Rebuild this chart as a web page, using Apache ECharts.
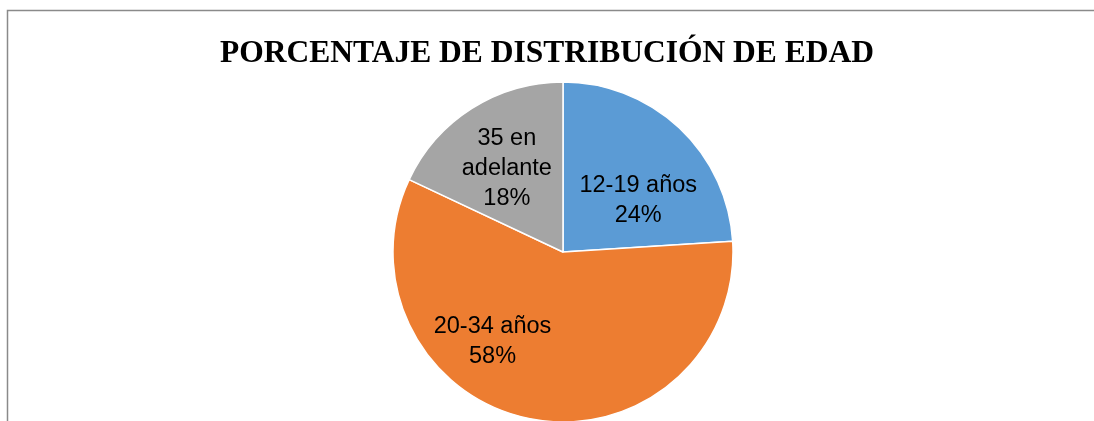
<!DOCTYPE html>
<html>
<head>
<meta charset="utf-8">
<script src="https://cdn.jsdelivr.net/npm/echarts@6/dist/echarts.min.js"></script>
<style>html,body{margin:0;padding:0;background:#fff;}#c{width:1094px;height:421px;}</style>
</head>
<body>
<div id="c"></div>
<script>
const titleText = 'PORCENTAJE DE DISTRIBUCIÓN DE EDAD';
const categories = ['12-19 años', '20-34 años', '35 en\nadelante'];
const values = [24, 58, 18];
const colors = ['#5B9BD5', '#ED7D31', '#A5A5A5'];
const labelOffsets = [[15, 13], [-54, 3], [-9, -9]];

const chart = echarts.init(document.getElementById('c'), null, {renderer: 'canvas'});
chart.setOption({
  animation: false,
  backgroundColor: '#fff',
  title: {
    text: titleText,
    left: 'center',
    top: 32,
    textStyle: {fontFamily: 'Liberation Serif', fontWeight: 'bold', fontSize: 31.5, color: '#000', lineHeight: 34}
  },
  graphic: [
    {type: 'polyline', silent: true, shape: {points: [[7.5, 421], [7.5, 10.5], [1094, 10.5]]},
     style: {stroke: '#8a8a8a', lineWidth: 1.5, fill: null}}
  ],
  series: [{
    type: 'pie',
    center: [563, 252],
    radius: [0, 170],
    startAngle: 90,
    clockwise: true,
    silent: true,
    itemStyle: {borderColor: '#fff', borderWidth: 1.5},
    label: {
      show: true,
      position: 'inside',
      fontFamily: 'Liberation Sans',
      fontSize: 23.5,
      lineHeight: 30,
      color: '#000',
      align: 'center',
      formatter: p => p.name + '\n' + p.value + '%'
    },
    labelLine: {show: false},
    data: categories.map((c, i) => ({
      name: c, value: values[i],
      itemStyle: {color: colors[i]},
      label: {offset: labelOffsets[i]}
    }))
  }]
});
</script>
</body>
</html>
